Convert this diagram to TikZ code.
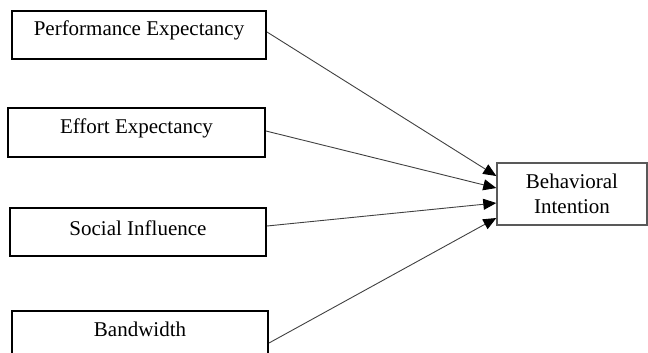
\documentclass[tikz,border=0pt]{standalone}
\usepackage{fontspec}
\setmainfont{Liberation Serif}
\usetikzlibrary{arrows.meta}
\begin{document}
\begin{tikzpicture}[x=1pt,y=-1pt,
  txt/.style={font=\fontsize{21}{25}\selectfont, text=black},
  srcbox/.style={draw=black, line width=2pt, inner sep=0pt},
  tgtbox/.style={draw=black!65, line width=1.4pt, inner sep=0pt, align=center,
    font=\fontsize{21}{25}\selectfont},
  conn/.style={draw=black!75, line width=0.9pt, -{Triangle[length=13pt,width=11pt,color=black]}}
]
\useasboundingbox (0,0) rectangle (648,353);
\node[srcbox, minimum width=254pt, minimum height=48pt,
  label={[txt,yshift=5pt]center:Performance Expectancy}] (pe) at (139,35) {};
\node[srcbox, minimum width=257pt, minimum height=49pt,
  label={[txt,yshift=4.5pt]center:Effort Expectancy}] (ee) at (136.5,132.5) {};
\node[srcbox, minimum width=256pt, minimum height=48pt,
  label={[txt,yshift=4pt]center:Social Influence}] (si) at (138,232) {};
\node[srcbox, minimum width=256pt, minimum height=48pt,
  label={[txt,yshift=5.5pt]center:Bandwidth}] (bw) at (140,335) {};
\node[tgtbox, minimum width=150pt, minimum height=62pt] (bi) at (572,194)
  {Behavioral\\Intention};
\draw[conn] ([yshift=3pt]pe.east) -- ([yshift=18pt]bi.west);
\draw[conn] ([yshift=1.5pt]ee.east) -- ([yshift=6pt]bi.west);
\draw[conn] ([yshift=6pt]si.east) -- ([yshift=-9pt]bi.west);
\draw[conn] ([yshift=-8pt]bw.east) -- ([yshift=-24pt]bi.west);
\end{tikzpicture}
\end{document}
